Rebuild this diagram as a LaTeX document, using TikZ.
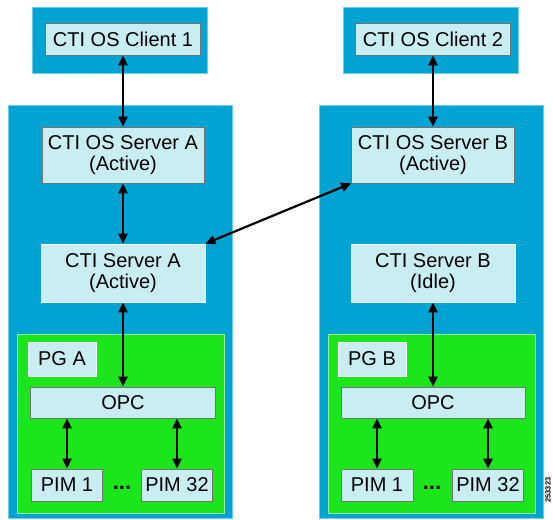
\documentclass[tikz,border=0pt]{standalone}
\usepackage{fontspec}
\setmainfont{Liberation Sans}
\usetikzlibrary{positioning, arrows.meta}
\definecolor{panelblue}{HTML}{00A3D2}
\definecolor{panelrim}{HTML}{6FCDEB}
\definecolor{pggreen}{HTML}{1BE61B}
\definecolor{pgrim}{HTML}{9AF09A}
\definecolor{boxcyan}{HTML}{C9EEF1}

\begin{document}
\begin{tikzpicture}[x=1pt, y=-1pt,
    panel/.style={fill=panelblue, draw=panelrim, line width=0.8pt},
    pgpanel/.style={fill=pggreen, draw=pgrim, line width=0.8pt},
    box/.style={draw=black!55, fill=boxcyan, line width=0.7pt, inner sep=0pt,
      align=center, font=\fontsize{20}{20.5}\selectfont},
    wbox/.style={box, draw=white!85!boxcyan},
    link/.style={{Triangle[length=10pt,width=9pt]}-{Triangle[length=10pt,width=9pt]}, line width=2.2pt}]
    \useasboundingbox (0,0) rectangle (553,519);
    % Blaue Bereiche
    \draw[panel] (32,7) rectangle (207,73);
    \draw[panel] (343,7) rectangle (518,73);
    \draw[panel] (8,105) rectangle (232,518);
    \draw[panel] (319,105) rectangle (543,518);
    % PG Bereiche
    \draw[pgpanel] (17,334) rectangle (224,513);
    \draw[pgpanel] (328,334) rectangle (535,513);
    % Clients
    \node[box, minimum width=155pt, minimum height=32pt] (cos1) at (123,39) {CTI OS Client 1};
    \node[box, minimum width=155pt, minimum height=32pt] (cos2) at (433,39) {CTI OS Client 2};
    % CTI OS Server
    \node[box, minimum width=162pt, minimum height=56pt] (osa) at (123,155) {CTI OS Server A\\(Active)};
    \node[box, minimum width=163pt, minimum height=56pt] (osb) at (433,155) {CTI OS Server B\\(Active)};
    % CTI Server
    \node[wbox, minimum width=164pt, minimum height=58pt] (csa) at (123,273) {CTI Server A\\(Active)};
    \node[wbox, minimum width=164pt, minimum height=58pt] (csb) at (433,273) {CTI Server B\\(Idle)};
    % PG
    \node[wbox, minimum width=68pt, minimum height=34pt] (pga) at (62,359) {PG A};
    \node[wbox, minimum width=68pt, minimum height=34pt] (pgb) at (372,359) {PG B};
    \node[box, minimum width=185pt, minimum height=31pt] (opca) at (123,402.5) {OPC};
    \node[box, minimum width=184pt, minimum height=31pt] (opcb) at (433,402.5) {OPC};
    % PIMs
    \node[box, minimum width=71pt, minimum height=32pt] (pa1) at (67,485) {PIM 1};
    \node[box, minimum width=71pt, minimum height=32pt] (pa32) at (177,485) {PIM 32};
    \node[box, minimum width=72pt, minimum height=32pt] (pb1) at (377,485) {PIM 1};
    \node[box, minimum width=71pt, minimum height=32pt] (pb32) at (488,485) {PIM 32};
    \node[anchor=base, inner sep=0pt, font=\bfseries\fontsize{22}{22}\selectfont] (dota) at (122,489) {...};
    \node[anchor=base, inner sep=0pt, font=\bfseries\fontsize{22}{22}\selectfont] (dotb) at (432,489) {...};
    % Verbindungen
    \draw[link] (cos1) -- (osa);
    \draw[link] (cos2) -- (osb);
    \draw[link] (osa) -- (csa);
    \draw[link] (csa) -- (opca);
    \draw[link] (csb) -- (opcb);
    \draw[link] (opca.south -| pa1) -- (pa1);
    \draw[link] (opca.south -| pa32) -- (pa32);
    \draw[link] (opcb.south -| pb1) -- (pb1);
    \draw[link] (opcb.south -| pb32) -- (pb32);
    \draw[link] (csa.north east) -- (osb.south west);
    % Bildnummer
    \node[rotate=90, font=\bfseries\fontsize{7.5}{8}\selectfont] (fignum) at (548,490) {253323};
\end{tikzpicture}
\end{document}
